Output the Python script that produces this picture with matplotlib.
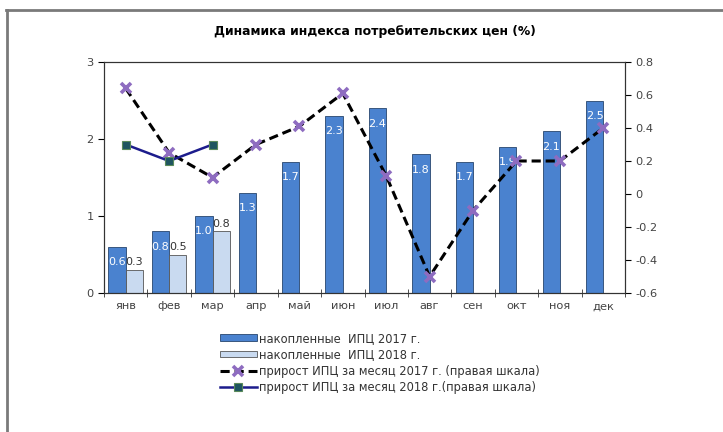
import matplotlib.pyplot as plt
from matplotlib.lines import Line2D
import numpy as np

plt.rcParams['font.family'] = ['DejaVu Sans']

# data
months = ['янв', 'фев', 'мар', 'апр', 'май', 'июн',
          'июл', 'авг', 'сен', 'окт', 'ноя', 'дек']
cum_2017 = [0.6, 0.8, 1.0, 1.3, 1.7, 2.3, 2.4, 1.8, 1.7, 1.9, 2.1, 2.5]
cum_2018 = [0.3, 0.5, 0.8]
mom_2017 = [0.64, 0.25, 0.1, 0.3, 0.41, 0.61, 0.11, -0.5, -0.1, 0.2, 0.2, 0.4]
mom_2018 = [0.3, 0.2, 0.3]

title = 'Динамика индекса потребительских цен (%)'
labels = ['накопленные  ИПЦ 2017 г.',
          'накопленные  ИПЦ 2018 г.',
          'прирост ИПЦ за месяц 2017 г. (правая шкала)',
          'прирост ИПЦ за месяц 2018 г.(правая шкала)']

W, H = 723, 432
fig = plt.figure(figsize=(W / 100, H / 100), dpi=100)
ax = fig.add_axes([104 / W, 1 - 293 / H, (625 - 104) / W, (293 - 62) / H])
ax2 = ax.twinx()

x = np.arange(len(months))
bw = 0.4
b17 = ax.bar(x - bw / 2, cum_2017, bw, color='#4A82CF', edgecolor='#27466e', linewidth=0.6, zorder=2)
x18 = x[:len(cum_2018)]
b18 = ax.bar(x18 + bw / 2, cum_2018, bw, color='#C9DAF0', edgecolor='#555555', linewidth=0.6, zorder=2)

for xi, v in zip(x, cum_2017):
    ax.text(xi - bw / 2, v - 0.2, f'{v:.1f}', color='white', fontsize=8, ha='center', va='center', zorder=3)
for xi, v in zip(x18, cum_2018):
    ax.text(xi + bw / 2, v + 0.1, f'{v:.1f}', color='#333333', fontsize=8, ha='center', va='center', zorder=3)

l17, = ax2.plot(x, mom_2017, color='black', linestyle=(0, (3, 1.6)), linewidth=2.2,
                marker='x', markersize=7, markeredgewidth=2.6, markeredgecolor='#8E6CC0', zorder=4)
l18, = ax2.plot(x18, mom_2018, color='#1c1c8c', linewidth=1.8,
                marker='s', markersize=6, markerfacecolor='#1E5560', markeredgecolor='#5a8a5a',
                markeredgewidth=0.8, zorder=5)

ax.set_xlim(-0.5, len(months) - 0.5)
ax.set_ylim(0, 3)
ax.set_yticks([0, 1, 2, 3])
ax2.set_ylim(-0.6, 0.8)
ax2.set_yticks([-0.6, -0.4, -0.2, 0, 0.2, 0.4, 0.6, 0.8])
ax2.set_yticklabels(['-0.6', '-0.4', '-0.2', '0', '0.2', '0.4', '0.6', '0.8'])

ax.set_xticks(x)
ax.set_xticklabels(months)
ax.set_xticks(np.arange(-0.5, len(months)), minor=True)
ax.tick_params(axis='x', which='major', length=0, labelsize=8.2, pad=6, labelcolor='#444444')
ax.tick_params(axis='x', which='minor', length=6, direction='inout', color='#333333')
ax.tick_params(axis='y', length=4, direction='out', labelsize=8.2, labelcolor='#444444')
ax2.tick_params(axis='y', length=4, direction='out', labelsize=8.2, labelcolor='#444444')
for a in (ax, ax2):
    for s in a.spines.values():
        s.set_color('#333333')
        s.set_linewidth(0.8)

fig.text(375 / W, 1 - 31 / H, title, ha='center', va='center', fontsize=8.9, fontweight='bold')

fig.legend([b17, b18, l17, l18], labels, loc='upper left', bbox_to_anchor=(214 / W, 1 - 326 / H),
           frameon=False, fontsize=8.3, handlelength=3.2, handleheight=0.5, handletextpad=0.2,
           labelspacing=0.3, borderpad=0, labelcolor='#333333')

# outer frame (top and left edges visible)
fig.add_artist(Line2D([6 / W, 1], [1 - 10 / H, 1 - 10 / H], color='#7a7a7a', linewidth=2, transform=fig.transFigure))
fig.add_artist(Line2D([7 / W, 7 / W], [0, 1 - 10 / H], color='#7a7a7a', linewidth=2, transform=fig.transFigure))

fig.savefig('out.png', dpi=100)
